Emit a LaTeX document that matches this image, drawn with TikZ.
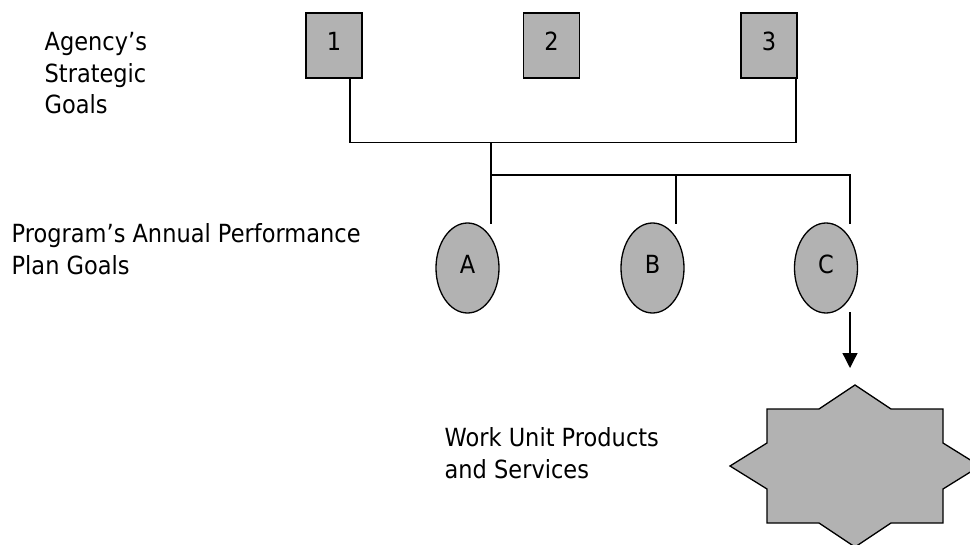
\documentclass[tikz,border=0pt]{standalone}
\usepackage{fontspec}
\setmainfont{DejaVu Sans}[FakeStretch=0.9]
\usetikzlibrary{shapes.geometric,arrows.meta}
\definecolor{shade}{gray}{0.70}
\begin{document}
\begin{tikzpicture}[x=1pt,y=-1pt,line width=1.3pt,
  every node/.style={font=\fontsize{25}{31.5}\selectfont},
  goalbox/.style={draw, line width=1.6pt, fill=shade, minimum width=56pt, minimum height=65pt, inner sep=0pt, text height=19pt, text depth=9pt},
  planoval/.style={ellipse, draw, fill=shade, minimum width=63pt, minimum height=90pt, inner sep=0pt, text height=18pt, text depth=8pt},
  caption/.style={anchor=north west, align=left, inner sep=0pt}]
\useasboundingbox (0,0) rectangle (970,544);
% captions
\node[caption] (capsg) at (44,32) {Agency’s\\Strategic\\Goals};
\node[caption] (cappg) at (11,223) {Program’s Annual Performance\\Plan Goals};
\node[caption] (capwu) at (444,427) {Work Unit Products\\and Services};
% strategic goals
\node[goalbox] (sg1) at (334,45.5){1};
\node[goalbox] (sg2) at (551.5,45.5){2};
\node[goalbox] (sg3) at (769,45.5){3};
% plan goals
\node[planoval] (pgA) at (467.5,268){A};
\node[planoval] (pgB) at (652.5,268){B};
\node[planoval] (pgC) at (826,268){C};
% bus lines
\coordinate (s1) at (350,78);
\coordinate (s3) at (796,78);
\coordinate (j1) at (491,142.5);
\coordinate (j2) at (491,175);
\coordinate (eA) at (491,224);
\coordinate (eB) at (676,224);
\coordinate (eC) at (850,224);
\draw[](s1) |- (j1);
\draw[](j1) -| (s3);
\draw[](j1) -- (eA);
\draw[](j2) -| (eB);
\draw[](j2) -| (eC);
% work unit star
\coordinate (wu) at (855,466);
\draw[fill=shade] (wu) +(0,-81) -- +(36,-57) -- +(88,-57) -- +(88,-23) -- +(125,0)
  -- +(88,23) -- +(88,57) -- +(36,57) -- +(0,81) -- +(-36,57) -- +(-88,57)
  -- +(-88,23) -- +(-125,0) -- +(-88,-23) -- +(-88,-57) -- +(-36,-57) -- cycle;
\coordinate (aC) at (850,312);
\coordinate (aW) at (850,368);
\draw[-{Triangle[length=15pt,width=15pt]}](aC) -- (aW);
\end{tikzpicture}
\end{document}
